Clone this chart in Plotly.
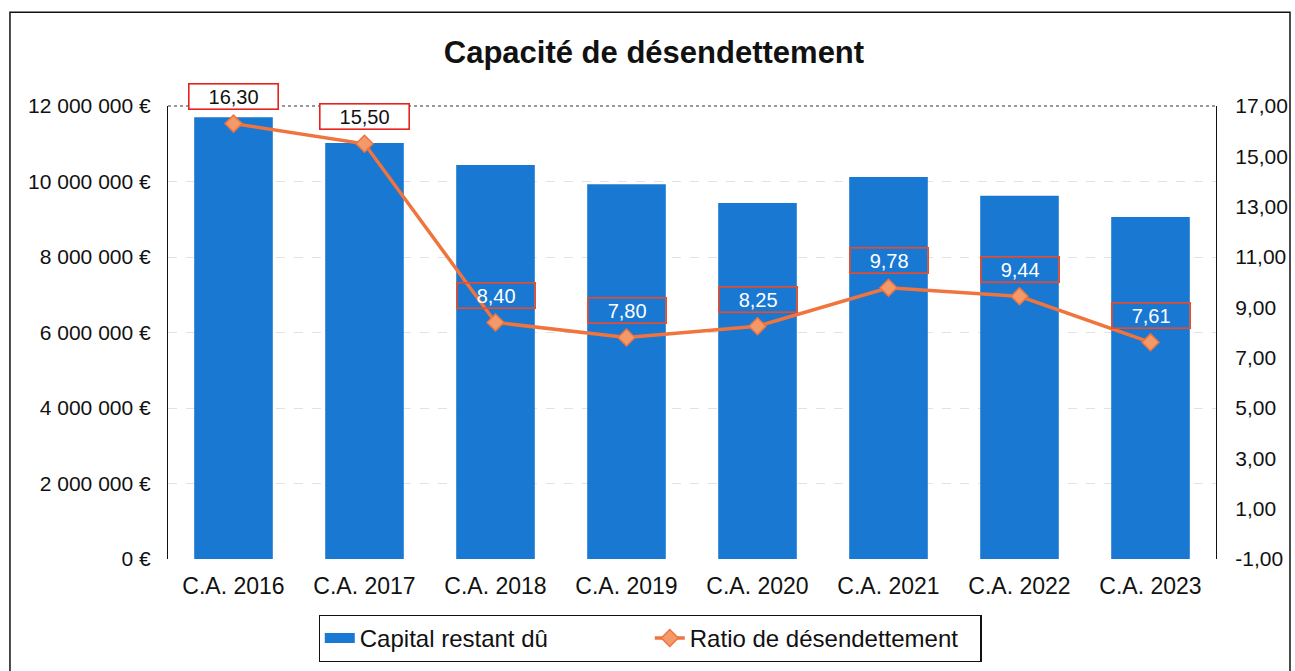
import plotly.graph_objects as go

categories = ["C.A. 2016", "C.A. 2017", "C.A. 2018", "C.A. 2019", "C.A. 2020", "C.A. 2021", "C.A. 2022", "C.A. 2023"]
capital = [11700000, 11020000, 10440000, 9930000, 9430000, 10120000, 9620000, 9060000]
ratio = [16.30, 15.50, 8.40, 7.80, 8.25, 9.78, 9.44, 7.61]
ratio_labels = ["16,30", "15,50", "8,40", "7,80", "8,25", "9,78", "9,44", "7,61"]
left_ticks = [0, 2000000, 4000000, 6000000, 8000000, 10000000, 12000000]
left_text = ["0 €", "2 000 000 €", "4 000 000 €", "6 000 000 €", "8 000 000 €", "10 000 000 €", "12 000 000 €"]
right_ticks = [-1, 1, 3, 5, 7, 9, 11, 13, 15, 17]
right_text = ["-1,00", "1,00", "3,00", "5,00", "7,00", "9,00", "11,00", "13,00", "15,00", "17,00"]

FONT = "Liberation Sans, Arial, sans-serif"
BLUE = "#1878d2"
ORANGE = "#f0743e"

fig = go.Figure()
fig.add_trace(go.Bar(x=categories, y=capital, name="Capital restant dû", showlegend=False,
                     marker=dict(color=BLUE, line=dict(width=0)), width=0.6, yaxis="y"))
# legend-only entry to get the wide rectangular swatch
fig.add_trace(go.Scatter(x=[None], y=[None], name="Capital restant dû", mode="lines",
                         line=dict(color=BLUE, width=10), yaxis="y"))
fig.add_trace(go.Scatter(x=categories, y=ratio, name="Ratio de désendettement", yaxis="y2",
                         mode="lines+markers",
                         line=dict(color=ORANGE, width=3.5),
                         marker=dict(symbol="diamond", size=13, color="#f39a6a",
                                     line=dict(color=ORANGE, width=1.5))))

annotations = []
for i, (c, v, t) in enumerate(zip(categories, ratio, ratio_labels)):
    first = i < 2
    annotations.append(dict(
        x=c, y=v, xref="x", yref="y2", text=t, showarrow=False, yshift=27,
        font=dict(family=FONT, size=20, color="#111111" if first else "white"),
        bgcolor="white" if first else "rgba(0,0,0,0)",
        bordercolor="#e8221c" if first else "#ef4a25", borderwidth=1.6, borderpad=1,
        width=86 if first else 75, height=22, align="center"))

fig.update_layout(
    width=1295, height=671,
    margin=dict(l=168, r=79, t=106, b=112, autoexpand=False),
    paper_bgcolor="white", plot_bgcolor="white",
    title=dict(text="<b>Capacité de désendettement</b>", x=0.505, xanchor="center",
               y=0.922, yanchor="middle", font=dict(family=FONT, size=31, color="#111111")),
    font=dict(family=FONT, color="#111111"),
    bargap=0.4,
    xaxis=dict(type="category", tickfont=dict(size=23), ticks="outside", ticklen=6,
               tickcolor="rgba(0,0,0,0)", showline=False, showgrid=False, zeroline=False,
               automargin=False),
    yaxis=dict(range=[0, 12000000], tickvals=left_ticks, ticktext=left_text,
               tickfont=dict(size=21), ticks="outside", ticklen=12, tickcolor="rgba(0,0,0,0)",
               showline=True, linecolor="#111111", linewidth=1.2, automargin=False,
               showgrid=True, gridcolor="#e2e2e2", griddash="dash", gridwidth=1, zeroline=False),
    yaxis2=dict(range=[-1, 17], overlaying="y", side="right", tickvals=right_ticks,
                ticktext=right_text, tickfont=dict(size=21), ticks="outside", ticklen=14,
                tickcolor="rgba(0,0,0,0)", showline=True, linecolor="#111111", linewidth=1.2,
                showgrid=False, zeroline=False, automargin=False),
    legend=dict(orientation="h", x=0.46, xanchor="center", y=-0.123, yanchor="top",
                bordercolor="#111111", borderwidth=1.2, font=dict(size=24),
                entrywidth=285, entrywidthmode="pixels", traceorder="normal"),
    annotations=annotations,
    shapes=[
        dict(type="line", xref="paper", yref="paper", x0=0, x1=1, y0=1, y1=1,
             line=dict(color="#333333", width=1.2, dash="dot")),
        dict(type="rect", xref="paper", yref="paper", x0=-0.1508, x1=1.0706, y0=-0.27, y1=1.207,
             line=dict(color="#111111", width=1.5)),
    ],
)

fig.write_html("out.html", config={"displayModeBar": False},
               post_script="document.body.style.margin='0px';document.body.style.overflow='hidden';")
